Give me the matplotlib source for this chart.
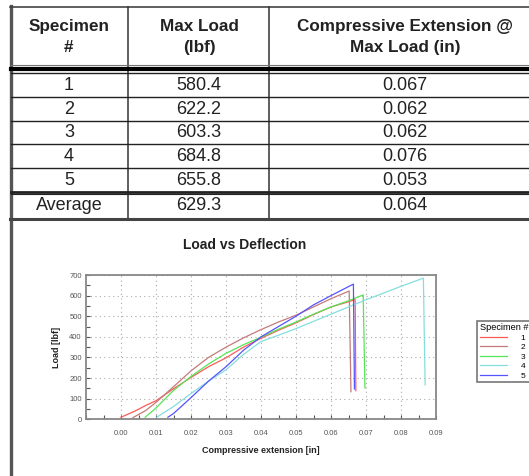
import matplotlib.pyplot as plt
from matplotlib.ticker import MultipleLocator

plt.rcParams['font.family'] = ['Liberation Sans', 'DejaVu Sans']

# Table data
header = ['Specimen\n#', 'Max Load\n(lbf)', 'Compressive Extension @\nMax Load (in)']
specimen_ids = ['1', '2', '3', '4', '5']
max_load = ['580.4', '622.2', '603.3', '684.8', '655.8']
ext_at_max = ['0.067', '0.062', '0.062', '0.076', '0.053']
avg_row = ['Average', '629.3', '0.064']

# Curve data
s1_x = [0.0000, 0.0040, 0.0073, 0.0100, 0.0150, 0.0200, 0.0250, 0.0300, 0.0350, 0.0400,
        0.0450, 0.0500, 0.0550, 0.0600, 0.0640, 0.0669, 0.0671]
s1_y = [10, 40, 69, 90, 148, 203, 255, 298, 350, 393, 432, 468, 508, 545, 565, 580.4, 139]

s2_x = [0.0034, 0.0070, 0.0100, 0.0150, 0.0200, 0.0250, 0.0300, 0.0350, 0.0400, 0.0450,
        0.0500, 0.0550, 0.0600, 0.0652, 0.0657]
s2_y = [8, 42, 82, 158, 235, 300, 350, 395, 435, 472, 505, 545, 585, 622.2, 134]

s3_x = [0.0069, 0.0100, 0.0150, 0.0200, 0.0250, 0.0300, 0.0350, 0.0400, 0.0450, 0.0500,
        0.0550, 0.0600, 0.0650, 0.0692, 0.0697]
s3_y = [10, 55, 140, 208, 268, 320, 362, 398, 437, 472, 510, 545, 575, 603.3, 152]

s4_x = [0.0102, 0.0150, 0.0200, 0.0250, 0.0300, 0.0350, 0.0400, 0.0450, 0.0500, 0.0550,
        0.0600, 0.0650, 0.0700, 0.0750, 0.0800, 0.0864, 0.0866, 0.0869]
s4_y = [10, 62, 125, 185, 240, 315, 377, 408, 440, 475, 510, 545, 580, 612, 645, 684.8, 460, 167]

s5_x = [0.0134, 0.0150, 0.0200, 0.0250, 0.0300, 0.0350, 0.0400, 0.0450, 0.0500, 0.0550,
        0.0600, 0.0664, 0.0667]
s5_y = [10, 28, 105, 185, 255, 335, 400, 450, 500, 555, 600, 655.8, 147]

curves = [(s1_x, s1_y, '#ff5a5a', '1'),
          (s2_x, s2_y, '#c47a7a', '2'),
          (s3_x, s3_y, '#55e655', '3'),
          (s4_x, s4_y, '#85dede', '4'),
          (s5_x, s5_y, '#5555ff', '5')]

W, H = 529, 476
fig = plt.figure(figsize=(W / 100, H / 100), dpi=100)

# background axes in pixel coords for the table
bg = fig.add_axes([0, 0, 1, 1])
bg.set_xlim(0, W)
bg.set_ylim(H, 0)
bg.axis('off')

col_x = [11, 128, 269, W + 5]
col_c = [69, 199, 405]
row_lines = [72.5, 96.5, 120.5, 144.3, 167.7]

# outer border
bg.plot([10.5, 10.5], [6, H + 2], color='#555555', lw=2.4)
bg.plot([10, W + 5], [6.5, 6.5], color='#444444', lw=1.2)
for x in col_x[1:3]:
    bg.plot([x, x], [6.5, 218], color='#333333', lw=1.1)
bg.plot([11, W + 5], [65, 65], color='#777777', lw=0.8)
bg.plot([11, W + 5], [68.7, 68.7], color='black', lw=3.0)
for y in row_lines:
    bg.plot([11, W + 5], [y, y], color='#222222', lw=1.0)
bg.plot([11, W + 5], [191.7, 191.7], color='#222222', lw=2.0)
bg.plot([11, W + 5], [193.5, 193.5], color='#222222', lw=0.8)
bg.plot([10, W + 5], [218.5, 218.5], color='#444444', lw=2.2)

# header text
for c, h in zip(col_c, header):
    top, bot = h.split('\n')
    bg.text(c, 26.5, top, ha='center', va='center', fontsize=12.3, fontweight='bold', color='#222222')
    bg.text(c, 47.5, bot, ha='center', va='center', fontsize=12.3, fontweight='bold', color='#222222')

# body rows
row_c = [84.5, 108.5, 132.4, 156, 179.7]
for i, yc in enumerate(row_c):
    for c, val in zip(col_c, [specimen_ids[i], max_load[i], ext_at_max[i]]):
        bg.text(c, yc + 0.5, val, ha='center', va='center', fontsize=13, color='#222222')
for c, val in zip(col_c, avg_row):
    bg.text(c, 206, val, ha='center', va='center', fontsize=13, color='#222222')

# chart
ax = fig.add_axes([86 / W, 1 - 419.3 / H, 350 / W, 144.3 / H])
for xs, ys, color, label in curves:
    ax.plot(xs, ys, color=color, lw=0.9, label=label)

ax.set_xlim(-0.01, 0.09)
ax.set_ylim(0, 700)
ax.set_xticks([0.00, 0.01, 0.02, 0.03, 0.04, 0.05, 0.06, 0.07, 0.08, 0.09])
ax.set_xticklabels(['0.00', '0.01', '0.02', '0.03', '0.04', '0.05', '0.06', '0.07', '0.08', '0.09'])
ax.xaxis.set_minor_locator(MultipleLocator(0.005))
ax.yaxis.set_major_locator(MultipleLocator(100))
ax.yaxis.set_minor_locator(MultipleLocator(50))
ax.tick_params(which='both', direction='in', length=3, width=0.8, color='#555555',
               labelsize=5.5, labelcolor='#555555', top=False, right=False, pad=3)
ax.tick_params(axis='x', pad=8)
ax.grid(True, which='major', linestyle=(0, (1, 3)), color='#aaaaaa', lw=0.8)
for sp in ax.spines.values():
    sp.set_color('#888888')
    sp.set_linewidth(1.3)

ax.set_xlabel('Compressive extension [in]', fontsize=6.5, fontweight='bold', color='#222222', labelpad=6)
ax.set_ylabel('Load [lbf]', fontsize=6.5, fontweight='bold', color='#222222', labelpad=6)

fig.text(245 / W, 1 - 245 / H, 'Load vs Deflection', ha='center', va='center',
         fontsize=10, fontweight='bold', color='#222222')

leg = ax.legend(loc='upper left', bbox_to_anchor=(473 / W, 1 - 316.7 / H),
                bbox_transform=fig.transFigure, title='Specimen #', fontsize=6,
                title_fontsize=6.6, alignment='left', handlelength=3.3, handletextpad=1.6,
                labelspacing=0.2, borderpad=0.3, fancybox=False, framealpha=1)
leg.get_frame().set_edgecolor('#777777')
leg.get_frame().set_linewidth(1.2)

fig.savefig('out.png', dpi=100)
